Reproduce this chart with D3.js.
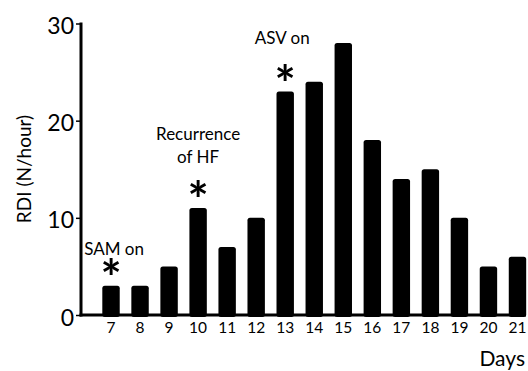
<!DOCTYPE html>
<html>
<head>
<meta charset="utf-8">
<script src="https://cdn.jsdelivr.net/npm/d3@7"></script>
<style>
  body { margin: 0; background: #fff; }
  text { font-family: Lato, "Open Sans", sans-serif; fill: #000; }
</style>
</head>
<body>
<svg id="chart" width="528" height="371"></svg>
<script>
// data
const days = ['7', '8', '9', '10', '11', '12', '13', '14', '15', '16', '17', '18', '19', '20', '21'];
const rdi = [3, 3, 5, 11, 7, 10, 23, 24, 28, 18, 14, 15, 10, 5, 6];
const yTicks = [0, 10, 20, 30];
const starredDays = ['7', '10', '13'];
const noteDays = ['7', '10', '13'];
const noteLines = [['SAM on'], ['Recurrence', 'of HF'], ['ASV on']];

// hand placement of the notes above each asterisk (baseline lift, x nudge)
const noteLift = { '7': 31, '10': 45, '13': 48 };
const noteNudge = { '7': 3, '10': 0, '13': -3 };

const svg = d3.select('svg#chart');
const x0 = 81, y0 = 315;

const x = d3.scaleBand().domain(days).range([96.5, 532]).paddingInner(0.4).paddingOuter(0.2);
const y = d3.scaleLinear().domain([0, 30]).range([y0, 23.5]);
const cx = d => x(d) + x.bandwidth() / 2;
const val = d => rdi[days.indexOf(d)];

// bars
svg.append('g').selectAll('rect').data(days)
  .enter().append('rect')
  .attr('x', d => x(d))
  .attr('width', x.bandwidth())
  .attr('y', d => y(val(d)))
  .attr('height', d => y0 - y(val(d)) + 2)
  .attr('rx', 2.5)
  .attr('fill', '#000');

// y axis
const yAxis = svg.append('g').attr('transform', `translate(${x0},0)`)
  .call(d3.axisLeft(y).tickValues(yTicks).tickSize(5).tickPadding(2));
yAxis.select('.domain').attr('stroke-width', 3).attr('d', `M0,${y0 + 1.5}V${y(30) - 1}`);
yAxis.selectAll('.tick line').attr('stroke-width', 1.5);
yAxis.selectAll('.tick text').attr('font-size', 23).attr('font-family', 'Lato, sans-serif')
  .attr('fill', '#000').attr('dy', '0.44em');

// x baseline and labels
svg.append('line').attr('x1', x0 - 1.5).attr('x2', 526).attr('y1', y0).attr('y2', y0)
  .attr('stroke', '#000').attr('stroke-width', 3);
svg.append('g').selectAll('text').data(days)
  .enter().append('text')
  .attr('x', d => cx(d))
  .attr('y', 333)
  .attr('text-anchor', 'middle')
  .attr('font-size', 15.5)
  .text(d => d);

// axis titles
svg.append('text').attr('x', 525).attr('y', 366).attr('text-anchor', 'end')
  .attr('font-size', 21).text('Days');
svg.append('text').attr('transform', 'translate(31,169) rotate(-90)').attr('text-anchor', 'middle')
  .attr('font-size', 19).text('RDI (N/hour)');

// asterisks, glyph centre about 18px above the bar top
svg.append('g').selectAll('text').data(starredDays)
  .enter().append('text')
  .attr('x', d => cx(d))
  .attr('y', d => y(val(d)) - 18 + 28)
  .attr('text-anchor', 'middle')
  .attr('font-family', '"Liberation Sans", Arial, sans-serif')
  .attr('font-size', 50)
  .attr('font-weight', 'bold')
  .text('*');

// annotations
noteDays.forEach((d, k) => {
  const lines = noteLines[k];
  const tx = cx(d) + noteNudge[d];
  const t = svg.append('text')
    .attr('x', tx)
    .attr('y', y(val(d)) - noteLift[d] - (lines.length - 1) * 23)
    .attr('text-anchor', 'middle')
    .attr('font-size', 17);
  lines.forEach((l, i) => t.append('tspan').attr('x', tx).attr('dy', i ? 23 : 0).text(l));
});
</script>
</body>
</html>
